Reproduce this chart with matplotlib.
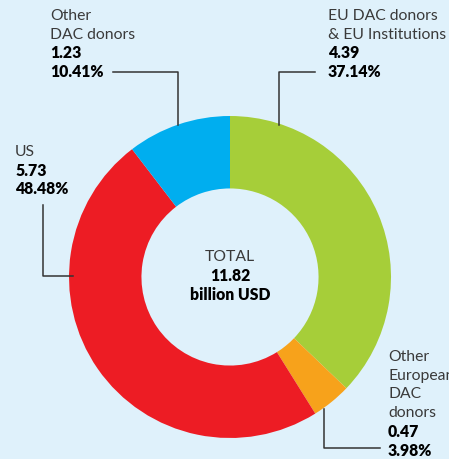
import matplotlib.pyplot as plt

# donor shares of total (billion USD)
labels = ["EU DAC donors\n& EU Institutions", "Other\nEuropean\nDAC\ndonors", "US", "Other\nDAC donors"]
values = [4.39, 0.47, 5.73, 1.23]
shares = ["37.14%", "3.98%", "48.48%", "10.41%"]
colors = ["#a6ce39", "#f7a21b", "#ed1c24", "#00aeef"]
total = "11.82"

W, H = 449, 459
bg = "#dff1fb"

fig = plt.figure(figsize=(W / 100, H / 100), dpi=100, facecolor=bg)
ax = fig.add_axes([0, 0, 1, 1])

cx, cy, r = 230, H - 277, 161
ax.pie(values, colors=colors, startangle=90, counterclock=False,
       center=(cx, cy), radius=r, wedgeprops=dict(width=r * 0.45, linewidth=0),
       frame=True)
ax.set_xlim(0, W)
ax.set_ylim(0, H)
ax.set_aspect("equal")
ax.axis("off")

font = "Lato"
fs = 11.3
lh = 18.7
grey = "#3a3a3a"


def label_block(x, y_top, name, val, pct):
    y = H - y_top
    for ln in name.split("\n"):
        ax.text(x, y, ln, fontsize=fs, family=font, color=grey, va="center")
        y -= lh
    ax.text(x, y, f"{val:.2f}", fontsize=fs, family=font, weight="heavy", color="black", va="center")
    y -= lh
    ax.text(x, y, pct, fontsize=fs, family=font, weight="heavy", color="black", va="center")


label_block(50, 16, labels[3], values[3], shares[3])
label_block(328, 16, labels[0], values[0], shares[0])
label_block(15, 152, labels[2], values[2], shares[2])
label_block(388, 357, labels[1], values[1], shares[1])

# leader lines
lc = dict(color="#333333", lw=1.1)
ax.plot([113, 178, 178], [H - 72, H - 72, H - 125], **lc)
ax.plot([315, 279, 279], [H - 72, H - 72, H - 125], **lc)
ax.plot([43, 43, 73], [H - 205, H - 276, H - 276], **lc)
ax.plot([324, 324, 380], [H - 409, H - 448, H - 448], **lc)

# centre total
ax.text(cx, H - 257, "TOTAL", fontsize=fs, family=font, color=grey, ha="center", va="center")
ax.text(cx, H - 276, total, fontsize=fs, family=font, weight="heavy", ha="center", va="center")
ax.text(cx, H - 295, "billion USD", fontsize=fs, family=font, weight="heavy", ha="center", va="center")

fig.savefig("out.png", dpi=100, facecolor=bg)
